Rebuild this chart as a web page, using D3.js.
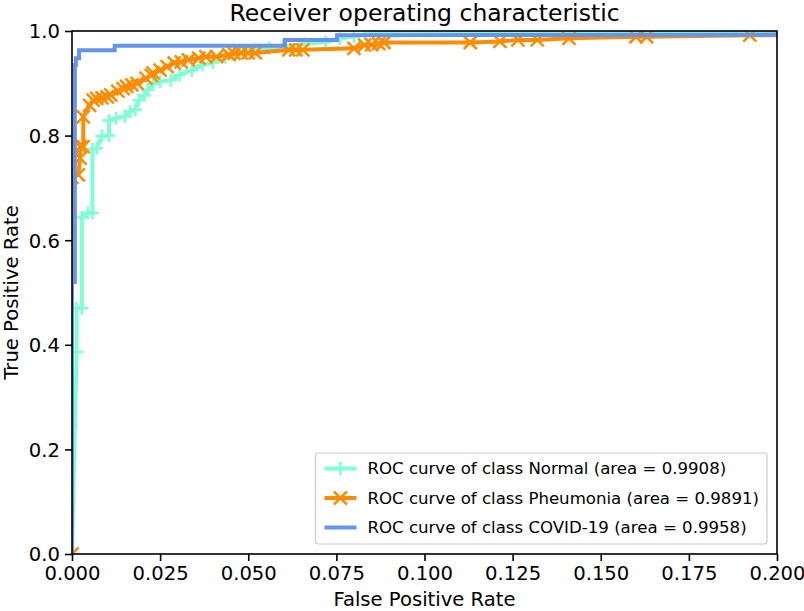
<!DOCTYPE html>
<html>
<head>
<meta charset="utf-8">
<script src="https://cdn.jsdelivr.net/npm/d3@7"></script>
<style>
  html, body { margin: 0; padding: 0; background: #fff; }
  svg { display: block; }
  text { font-family: "DejaVu Sans", sans-serif; fill: #000; }
</style>
</head>
<body>
<svg id="chart" width="804" height="611"></svg>
<script>
// ---------- data ----------
const titleText = "Receiver operating characteristic";
const xLabel = "False Positive Rate";
const yLabel = "True Positive Rate";
const xTicks = [0, 0.025, 0.05, 0.075, 0.1, 0.125, 0.15, 0.175, 0.2];
const yTicks = [0, 0.2, 0.4, 0.6, 0.8, 1.0];

const classNames = ["Normal", "Pheumonia", "COVID-19"];
const classAreas = ["0.9908", "0.9891", "0.9958"];
const classColors = ["#7fffd4", "#ff8c00", "#6495ed"];
const classMarkers = ["plus", "cross", "none"];

const normalFpr = [0, 0.0013, 0.0013, 0.0028, 0.0028, 0.0045, 0.0058, 0.0058, 0.007, 0.0085, 0.0105, 0.0105, 0.0125, 0.015, 0.0165, 0.018, 0.019, 0.0205, 0.0215, 0.023, 0.025, 0.028, 0.0305, 0.034, 0.037, 0.04, 0.0435, 0.046, 0.049, 0.052, 0.056, 0.06, 0.066, 0.072, 0.076, 0.080, 0.083, 0.087, 0.092, 1];
const normalTpr = [0, 0.386, 0.47, 0.47, 0.644, 0.652, 0.652, 0.774, 0.776, 0.799, 0.80, 0.829, 0.833, 0.837, 0.846, 0.85, 0.868, 0.877, 0.887, 0.899, 0.903, 0.906, 0.916, 0.925, 0.935, 0.94, 0.95, 0.958, 0.962, 0.964, 0.967, 0.971, 0.975, 0.979, 0.985, 0.99, 0.994, 0.997, 1.0, 1.0];

const pneumoniaFpr = [0, 0, 0.0018, 0.0023, 0.0023, 0.0032, 0.0032, 0.005, 0.006, 0.007, 0.0085, 0.01, 0.011, 0.013, 0.0145, 0.0155, 0.017, 0.0185, 0.021, 0.0225, 0.023, 0.025, 0.027, 0.029, 0.031, 0.033, 0.036, 0.038, 0.041, 0.0445, 0.046, 0.048, 0.05, 0.052, 0.0615, 0.0635, 0.0655, 0.08, 0.083, 0.085, 0.087, 0.0885, 0.113, 0.1214, 0.1265, 0.132, 0.141, 0.16, 0.163, 0.1923, 1];
const pneumoniaTpr = [0, 0.72, 0.725, 0.757, 0.779, 0.779, 0.836, 0.858, 0.868, 0.871, 0.872, 0.874, 0.878, 0.885, 0.89, 0.894, 0.897, 0.9, 0.91, 0.915, 0.92, 0.925, 0.932, 0.939, 0.941, 0.945, 0.948, 0.951, 0.951, 0.955, 0.957, 0.958, 0.958, 0.958, 0.964, 0.964, 0.964, 0.967, 0.973, 0.974, 0.976, 0.978, 0.978, 0.98, 0.983, 0.983, 0.986, 0.989, 0.989, 0.992, 1];

const covidFpr = [0, 0, 0.0008, 0.0008, 0.0011, 0.0011, 0.002, 0.002, 0.0121, 0.0121, 0.0604, 0.0604, 0.0752, 0.0752, 1];
const covidTpr = [0, 0.52, 0.52, 0.935, 0.935, 0.948, 0.948, 0.963, 0.963, 0.972, 0.972, 0.983, 0.983, 0.992, 1];

const seriesFpr = [normalFpr, pneumoniaFpr, covidFpr];
const seriesTpr = [normalTpr, pneumoniaTpr, covidTpr];

// ---------- layout ----------
const svg = d3.select("#chart");
const L = 72, R = 777, T = 31, B = 554;
const x = d3.scaleLinear().domain([0, 0.2]).range([L, R]);
const y = d3.scaleLinear().domain([0, 1]).range([B, T]);

const baseFont = 19.6;
const lineW = 4;
const markSize = 6.5;   // half size
const markW = 2.5;

svg.append("defs").append("clipPath").attr("id", "plotclip")
  .append("rect").attr("x", L).attr("y", T).attr("width", R - L).attr("height", B - T);

function markerPath(kind, s) {
  if (kind === "plus") return `M${-s},0H${s}M0,${-s}V${s}`;
  if (kind === "cross") return `M${-s},${-s}L${s},${s}M${-s},${s}L${s},${-s}`;
  return "";
}

const plot = svg.append("g").attr("clip-path", "url(#plotclip)");
const line = d3.line().x(d => x(d[0])).y(d => y(d[1]));

classNames.forEach((name, i) => {
  const pts = seriesFpr[i].map((f, j) => [f, seriesTpr[i][j]]);
  const g = plot.append("g");
  g.append("path").datum(pts).attr("d", line)
    .attr("fill", "none").attr("stroke", classColors[i])
    .attr("stroke-width", lineW).attr("stroke-linejoin", "miter").attr("stroke-linecap", "butt");
  if (classMarkers[i] !== "none") {
    g.selectAll("path.m").data(pts).enter().append("path").attr("class", "m")
      .attr("transform", d => `translate(${x(d[0])},${y(d[1])})`)
      .attr("d", markerPath(classMarkers[i], markSize))
      .attr("fill", "none").attr("stroke", classColors[i]).attr("stroke-width", markW);
  }
});

// ---------- axes ----------
const xAxis = d3.axisBottom(x).tickValues(xTicks).tickFormat(d3.format(".3f")).tickSize(7).tickPadding(5);
const yAxis = d3.axisLeft(y).tickValues(yTicks).tickFormat(d3.format(".1f")).tickSize(7).tickPadding(5);

const gx = svg.append("g").attr("transform", `translate(0,${B})`).call(xAxis);
const gy = svg.append("g").attr("transform", `translate(${L},0)`).call(yAxis);
[gx, gy].forEach(g => {
  g.select(".domain").remove();
  g.selectAll(".tick line").attr("stroke", "#000").attr("stroke-width", 1.6);
  g.selectAll(".tick text").attr("font-size", baseFont).attr("font-family", "DejaVu Sans").attr("fill", "#000");
});
gy.selectAll(".tick text").attr("dy", "0.35em");

svg.append("rect").attr("x", L).attr("y", T).attr("width", R - L).attr("height", B - T)
  .attr("fill", "none").attr("stroke", "#000").attr("stroke-width", 1.6);

// ---------- labels ----------
svg.append("text").attr("x", (L + R) / 2).attr("y", 21).attr("text-anchor", "middle")
  .attr("font-size", baseFont * 1.2).text(titleText);
svg.append("text").attr("x", (L + R) / 2).attr("y", 606).attr("text-anchor", "middle")
  .attr("font-size", baseFont).text(xLabel);
svg.append("text").attr("transform", `translate(18,${(T + B) / 2}) rotate(-90)`).attr("text-anchor", "middle")
  .attr("font-size", baseFont).text(yLabel);

// ---------- legend ----------
const legFont = 16.6;
const legRight = R - 10, legBottom = B - 10;
const legRowH = 29.5;
const legendLabels = classNames.map((n, i) => `ROC curve of class ${n} (area = ${classAreas[i]})`);
const leg = svg.append("g");
const legBox = leg.append("rect");
const texts = [];
legendLabels.forEach((lab, i) => {
  const t = leg.append("text").attr("font-size", legFont).text(lab);
  texts.push(t);
});
const maxW = d3.max(texts, t => t.node().getComputedTextLength());
const padL = 9, handleLen = 32, gap = 11, padR = 8;
const legW = padL + handleLen + gap + maxW + padR;
const legH = 91;
const legLeft = legRight - legW, legTop = legBottom - legH;
legBox.attr("x", legLeft).attr("y", legTop).attr("width", legW).attr("height", legH)
  .attr("rx", 3).attr("fill", "#fff").attr("fill-opacity", 0.8)
  .attr("stroke", "#cccccc").attr("stroke-width", 1.2);
legendLabels.forEach((lab, i) => {
  const cy = legTop + 15.5 + i * legRowH;
  texts[i].attr("x", legLeft + padL + handleLen + gap).attr("y", cy).attr("dy", "0.35em");
  leg.append("line").attr("x1", legLeft + padL).attr("x2", legLeft + padL + handleLen)
    .attr("y1", cy).attr("y2", cy).attr("stroke", classColors[i]).attr("stroke-width", lineW);
  if (classMarkers[i] !== "none") {
    leg.append("path").attr("transform", `translate(${legLeft + padL + handleLen / 2},${cy})`)
      .attr("d", markerPath(classMarkers[i], markSize)).attr("fill", "none")
      .attr("stroke", classColors[i]).attr("stroke-width", markW);
  }
});
</script>
</body>
</html>
